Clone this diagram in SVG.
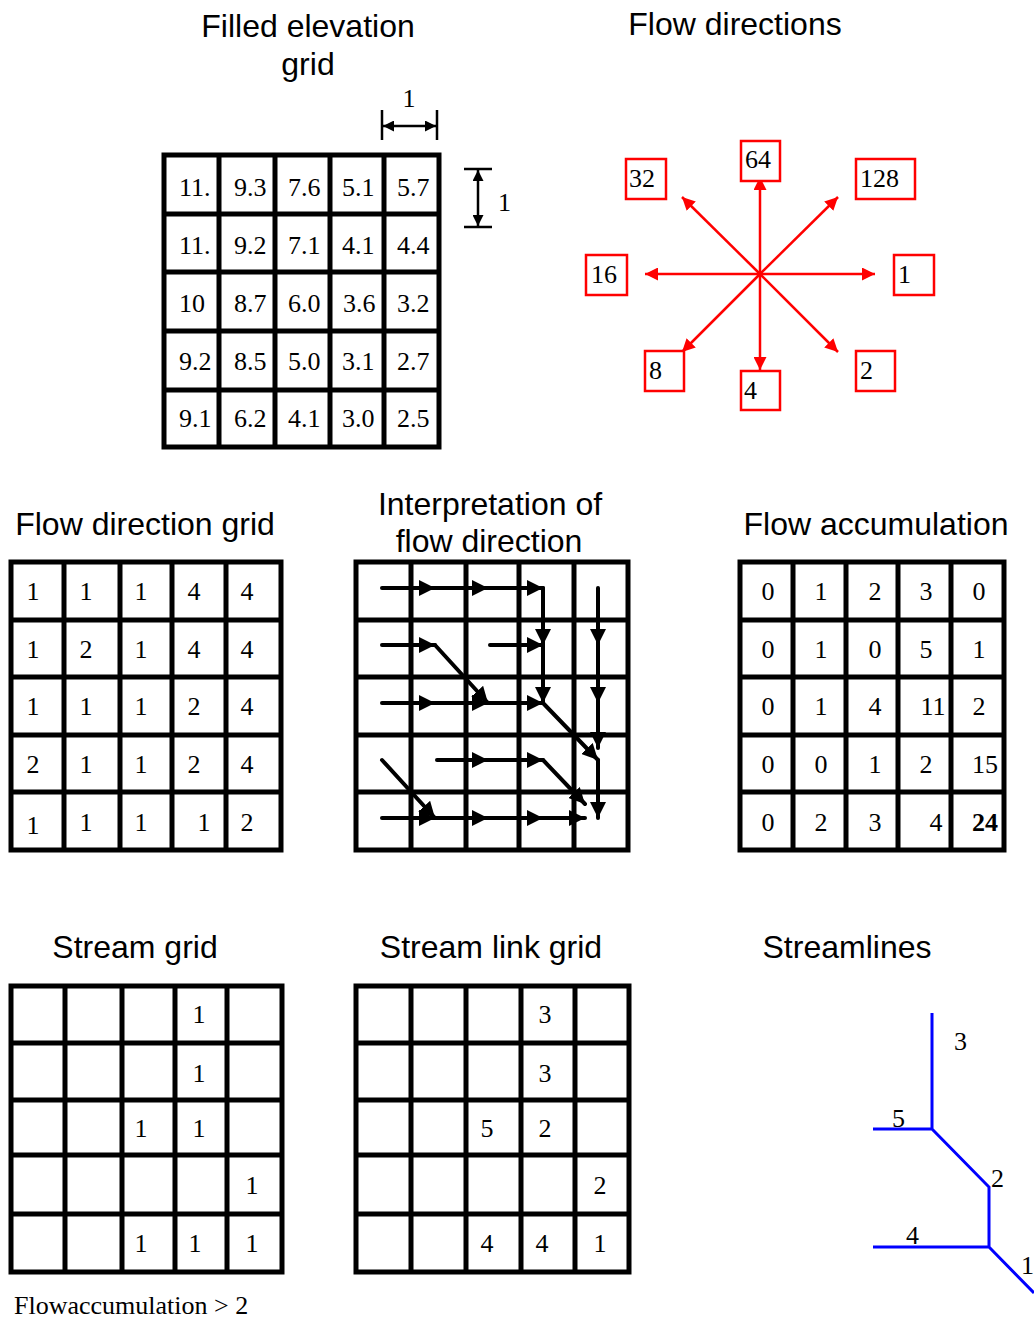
<svg xmlns="http://www.w3.org/2000/svg" width="1034" height="1321" viewBox="0 0 1034 1321">
<style>
.title{font-family:"Liberation Sans",Arial,sans-serif;font-size:32px;fill:#000;text-anchor:middle}
.num{font-family:"Liberation Serif","Times New Roman",serif;font-size:26px;fill:#000}
.c{text-anchor:middle}
.grid{fill:none;stroke:#000;stroke-width:5}
.arr{fill:none;stroke:#000;stroke-width:4;stroke-linecap:round;marker-end:url(#ah)}
.red{fill:none;stroke:#ff0000;stroke-width:2.5;marker-end:url(#rh)}
.rbox{fill:#fff;stroke:#ff0000;stroke-width:2.5}
.dim{fill:none;stroke:#000;stroke-width:2.5}
.dima{fill:none;stroke:#000;stroke-width:2.5;marker-start:url(#dh);marker-end:url(#dh)}
.blue{fill:none;stroke:#0000ff;stroke-width:3}
</style>
<defs>
<marker id="ah" markerUnits="userSpaceOnUse" markerWidth="16" markerHeight="16" refX="16" refY="8" orient="auto"><path d="M0,0 L16,8 L0,16 z" fill="#000"/></marker>
<marker id="rh" markerUnits="userSpaceOnUse" markerWidth="13" markerHeight="13" refX="13" refY="6.5" orient="auto"><path d="M0,0 L13,6.5 L0,13 z" fill="#ff0000"/></marker>
<marker id="dh" markerUnits="userSpaceOnUse" markerWidth="11" markerHeight="11" refX="11" refY="5.5" orient="auto-start-reverse"><path d="M0,0 L11,5.5 L0,11 z" fill="#000"/></marker>
</defs>
<rect width="1034" height="1321" fill="#fff"/>

<g id="elevation">
<text class="title" x="308" y="37">Filled elevation</text>
<text class="title" x="308" y="75">grid</text>
<path class="grid" d="M164,155H439V447H164Z M219,155V447 M275,155V447 M330,155V447 M384,155V447 M164,214H439 M164,272H439 M164,331H439 M164,390H439"/>
<g class="num">
<text x="179" y="196">11.</text><text x="234" y="196">9.3</text><text x="288" y="196">7.6</text><text x="342" y="196">5.1</text><text x="397" y="196">5.7</text>
<text x="179" y="254">11.</text><text x="234" y="254">9.2</text><text x="288" y="254">7.1</text><text x="342" y="254">4.1</text><text x="397" y="254">4.4</text>
<text x="179" y="312">10</text><text x="234" y="312">8.7</text><text x="288" y="312">6.0</text><text x="343" y="312">3.6</text><text x="397" y="312">3.2</text>
<text x="179" y="370">9.2</text><text x="234" y="370">8.5</text><text x="288" y="370">5.0</text><text x="342" y="370">3.1</text><text x="397" y="370">2.7</text>
<text x="179" y="427">9.1</text><text x="234" y="427">6.2</text><text x="288" y="427">4.1</text><text x="342" y="427">3.0</text><text x="397" y="427">2.5</text>
</g>
<path class="dim" d="M382,110V140 M437,110V140 M464,169H492 M464,227H492"/>
<path class="dima" d="M383,126H436"/>
<path class="dima" d="M478,170V226"/>
<text class="num c" x="409" y="107">1</text>
<text class="num" x="498" y="211">1</text>
</g>

<g id="flow-directions">
<text class="title" x="735" y="35">Flow directions</text>
<g>
<path class="red" d="M760,274L760,177"/>
<path class="red" d="M760,274L760,370"/>
<path class="red" d="M760,274L645,274"/>
<path class="red" d="M760,274L875,274"/>
<path class="red" d="M760,274L682,197"/>
<path class="red" d="M760,274L838,197"/>
<path class="red" d="M760,274L682,352"/>
<path class="red" d="M760,274L838,352"/>
</g>
<rect class="rbox" x="741" y="141" width="39" height="40"/><text class="num" x="745" y="168">64</text>
<rect class="rbox" x="626" y="159" width="40" height="40"/><text class="num" x="629" y="187">32</text>
<rect class="rbox" x="856" y="159" width="59" height="40"/><text class="num" x="860" y="187">128</text>
<rect class="rbox" x="586" y="255" width="41" height="40"/><text class="num" x="591" y="283">16</text>
<rect class="rbox" x="894" y="255" width="40" height="40"/><text class="num" x="898" y="283">1</text>
<rect class="rbox" x="645" y="351" width="39" height="40"/><text class="num" x="649" y="379">8</text>
<rect class="rbox" x="741" y="371" width="39" height="39"/><text class="num" x="744" y="399">4</text>
<rect class="rbox" x="856" y="351" width="39" height="40"/><text class="num" x="860" y="379">2</text>
</g>

<g id="flow-direction-grid">
<text class="title" x="145" y="535">Flow direction grid</text>
<path class="grid" d="M11,562H281V850H11Z M64,562V850 M120,562V850 M172,562V850 M226,562V850 M11,620H281 M11,677H281 M11,735H281 M11,792H281"/>
<g class="num c">
<text x="33" y="600">1</text><text x="86" y="600">1</text><text x="141" y="600">1</text><text x="194" y="600">4</text><text x="247" y="600">4</text>
<text x="33" y="658">1</text><text x="86" y="658">2</text><text x="141" y="658">1</text><text x="194" y="658">4</text><text x="247" y="658">4</text>
<text x="33" y="715">1</text><text x="86" y="715">1</text><text x="141" y="715">1</text><text x="194" y="715">2</text><text x="247" y="715">4</text>
<text x="33" y="773">2</text><text x="86" y="773">1</text><text x="141" y="773">1</text><text x="194" y="773">2</text><text x="247" y="773">4</text>
<text x="33" y="834">1</text><text x="86" y="831">1</text><text x="141" y="831">1</text><text x="204" y="831">1</text><text x="247" y="831">2</text>
</g>
</g>

<g id="interpretation">
<text class="title" x="490" y="515">Interpretation of</text>
<text class="title" x="489" y="552">flow direction</text>
<path class="grid" d="M356,562H628V850H356Z M411,562V850 M466,562V850 M519,562V850 M574,562V850 M356,620H628 M356,677H628 M356,735H628 M356,792H628"/>
<g id="interp-arrows">
<path class="arr" d="M382,588L435,588"/><path class="arr" d="M435,588L488,588"/><path class="arr" d="M488,588L543,588"/><path class="arr" d="M543,588L543,645"/><path class="arr" d="M598,588L598,645"/>
<path class="arr" d="M382,645L435,645"/><path class="arr" d="M435,645L488,703"/><path class="arr" d="M490,645L543,645"/><path class="arr" d="M543,645L543,703"/><path class="arr" d="M598,645L598,703"/>
<path class="arr" d="M382,703L435,703"/><path class="arr" d="M435,703L488,703"/><path class="arr" d="M488,703L543,703"/><path class="arr" d="M543,703L598,760"/><path class="arr" d="M598,703L598,748"/>
<path class="arr" d="M382,760L435,818"/><path class="arr" d="M437,760L488,760"/><path class="arr" d="M488,760L543,760"/><path class="arr" d="M543,760L585,804"/><path class="arr" d="M598,760L598,818"/>
<path class="arr" d="M382,818L435,818"/><path class="arr" d="M435,818L488,818"/><path class="arr" d="M488,818L543,818"/><path class="arr" d="M543,818L585,818"/>
</g>
</g>

<g id="flow-accumulation">
<text class="title" x="876" y="535">Flow accumulation</text>
<path class="grid" d="M740,562H1004V850H740Z M793,562V850 M846,562V850 M898,562V850 M951,562V850 M740,620H1004 M740,677H1004 M740,735H1004 M740,792H1004"/>
<g class="num c">
<text x="768" y="600">0</text><text x="821" y="600">1</text><text x="875" y="600">2</text><text x="926" y="600">3</text><text x="979" y="600">0</text>
<text x="768" y="658">0</text><text x="821" y="658">1</text><text x="875" y="658">0</text><text x="926" y="658">5</text><text x="979" y="658">1</text>
<text x="768" y="715">0</text><text x="821" y="715">1</text><text x="875" y="715">4</text><text x="933" y="715">11</text><text x="979" y="715">2</text>
<text x="768" y="773">0</text><text x="821" y="773">0</text><text x="875" y="773">1</text><text x="926" y="773">2</text><text x="985" y="773">15</text>
<text x="768" y="831">0</text><text x="821" y="831">2</text><text x="875" y="831">3</text><text x="936" y="831">4</text><text x="985" y="831" font-weight="bold">24</text>
</g>
</g>

<g id="stream-grid">
<text class="title" x="135" y="958">Stream grid</text>
<path class="grid" d="M11,986H282V1272H11Z M65,986V1272 M122,986V1272 M175,986V1272 M227,986V1272 M11,1043H282 M11,1100H282 M11,1155H282 M11,1214H282"/>
<g class="num c">
<text x="199" y="1023">1</text>
<text x="199" y="1082">1</text>
<text x="141" y="1137">1</text><text x="199" y="1137">1</text>
<text x="252" y="1194">1</text>
<text x="141" y="1252">1</text><text x="195" y="1252">1</text><text x="252" y="1252">1</text>
</g>
<text class="num" x="14" y="1314">Flowaccumulation &gt; 2</text>
</g>

<g id="stream-link-grid">
<text class="title" x="491" y="958">Stream link grid</text>
<path class="grid" d="M356,986H629V1272H356Z M411,986V1272 M466,986V1272 M521,986V1272 M575,986V1272 M356,1043H629 M356,1100H629 M356,1155H629 M356,1214H629"/>
<g class="num c">
<text x="545" y="1023">3</text>
<text x="545" y="1082">3</text>
<text x="487" y="1137">5</text><text x="545" y="1137">2</text>
<text x="600" y="1194">2</text>
<text x="487" y="1252">4</text><text x="542" y="1252">4</text><text x="600" y="1252">1</text>
</g>
</g>

<g id="streamlines">
<text class="title" x="847" y="958">Streamlines</text>
<path class="blue" d="M932,1013V1129 M873,1129H932 M932,1129L989,1187V1247 M873,1247H989 M989,1247L1034,1293"/>
<g class="num">
<text x="954" y="1050">3</text>
<text x="892" y="1127">5</text>
<text x="991" y="1187">2</text>
<text x="906" y="1244">4</text>
<text x="1021" y="1274">1</text>
</g>
</g>
</svg>
